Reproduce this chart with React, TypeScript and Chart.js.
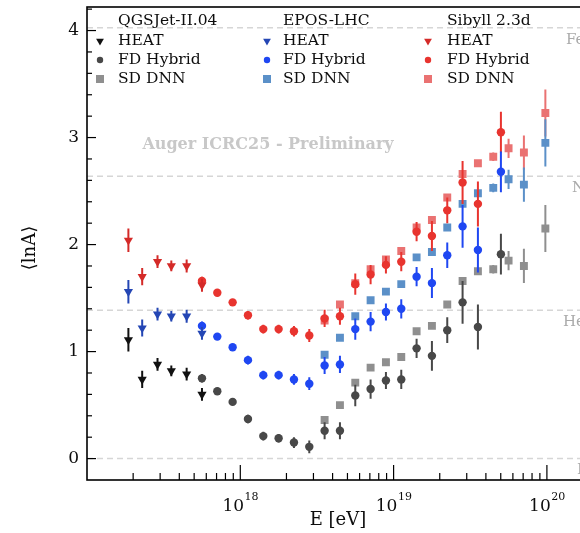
import React, { useEffect, useRef } from 'react';
import { Chart, registerables } from 'chart.js';

Chart.register(...registerables);

// ---------- data (log10 of energy in eV, <lnA>) ----------
const heatLgE = [17.27, 17.36, 17.46, 17.55, 17.65, 17.75];
const fdLgE = [17.75, 17.85, 17.95, 18.05, 18.15, 18.25, 18.35, 18.45, 18.55, 18.65, 18.75, 18.85, 18.95, 19.05, 19.15, 19.25, 19.35, 19.45, 19.55, 19.7];
const sdLgE = [18.55, 18.65, 18.75, 18.85, 18.95, 19.05, 19.15, 19.25, 19.35, 19.45, 19.55, 19.65, 19.75, 19.85, 19.99];

const qgsHeat = [1.11, 0.74, 0.88, 0.82, 0.79, 0.6];
const eposHeat = [1.56, 1.22, 1.35, 1.33, 1.33, 1.17];
const sibHeat = [2.04, 1.7, 1.84, 1.8, 1.8, 1.62];
const heatErr = [0.11, 0.08, 0.06, 0.05, 0.06, 0.06];

const qgsFd = [0.75, 0.63, 0.53, 0.37, 0.21, 0.19, 0.15, 0.11, 0.26, 0.26, 0.59, 0.65, 0.73, 0.74, 1.03, 0.96, 1.2, 1.46, 1.23, 1.91];
const eposFd = [1.24, 1.14, 1.04, 0.92, 0.78, 0.78, 0.74, 0.7, 0.87, 0.88, 1.21, 1.28, 1.37, 1.4, 1.7, 1.64, 1.9, 2.17, 1.95, 2.68];
const sibFd = [1.66, 1.55, 1.46, 1.34, 1.21, 1.21, 1.19, 1.15, 1.31, 1.33, 1.63, 1.72, 1.81, 1.84, 2.12, 2.08, 2.32, 2.58, 2.38, 3.05];
const fdErr = [0.04, 0.03, 0.03, 0.04, 0.04, 0.04, 0.05, 0.06, 0.08, 0.08, 0.1, 0.09, 0.08, 0.09, 0.09, 0.14, 0.12, 0.2, 0.21, 0.19];

const qgsSd = [0.36, 0.5, 0.71, 0.85, 0.9, 0.95, 1.19, 1.24, 1.44, 1.66, 1.75, 1.77, 1.85, 1.8, 2.15];
const eposSd = [0.97, 1.13, 1.33, 1.48, 1.56, 1.63, 1.88, 1.93, 2.16, 2.38, 2.48, 2.53, 2.61, 2.56, 2.95];
const sibSd = [1.29, 1.44, 1.64, 1.77, 1.86, 1.94, 2.16, 2.23, 2.44, 2.66, 2.76, 2.82, 2.9, 2.86, 3.23];
const sdErr = [0.02, 0.02, 0.02, 0.02, 0.02, 0.02, 0.02, 0.03, 0.03, 0.03, 0.03, 0.04, 0.09, 0.16, 0.22];

const models = ['QGSJet-II.04', 'EPOS-LHC', 'Sibyll 2.3d'];
const detectors = ['HEAT', 'FD Hybrid', 'SD DNN'];
const refNames = ['H', 'He', 'N', 'Fe'];
const refMass = [1, 4, 14, 56];
const yTickValues = [0, 1, 2, 3, 4];
const xDecades = [18, 19, 20];
const watermark = 'Auger ICRC25 - Preliminary';
const xTitle = 'E [eV]';
const yTitle = '\u27E8lnA\u27E9';

// ---------- styles ----------
const FONT = "'DejaVu Serif', 'Liberation Serif', serif";
const heatColors = ['#111111', '#2446b4', '#d42a28'];
const fdColors = ['#484848', '#1f47f2', '#e8342f'];
const sdColors = ['#8f8f8f', '#5b90c8', '#ea7272'];
const refLabelX = [577, 563, 572, 566];

type Group = { lgE: number[]; vals: number[][]; err: number[]; style: string; rotation: number; radius: number; colors: string[]; order: number };
const groups: Group[] = [
  { lgE: sdLgE, vals: [qgsSd, eposSd, sibSd], err: sdErr, style: 'rect', rotation: 0, radius: 5.6, colors: sdColors, order: 3 },
  { lgE: fdLgE, vals: [qgsFd, eposFd, sibFd], err: fdErr, style: 'circle', rotation: 0, radius: 4.2, colors: fdColors, order: 2 },
  { lgE: heatLgE, vals: [qgsHeat, eposHeat, sibHeat], err: heatErr, style: 'triangle', rotation: 180, radius: 5.3, colors: heatColors, order: 1 },
];

function buildDatasets() {
  const out: any[] = [];
  groups.forEach((g) => {
    g.vals.forEach((vals, m) => {
      out.push({
        label: `${models[m]} ${g.style}`,
        data: g.lgE.map((l, i) => ({ x: Math.pow(10, l), y: vals[i] })),
        errs: g.err,
        pointStyle: g.style,
        rotation: g.rotation,
        pointRadius: g.radius,
        pointHoverRadius: g.radius,
        backgroundColor: g.colors[m],
        borderColor: g.colors[m],
        borderWidth: 0,
        showLine: false,
        order: g.order,
      });
    });
  });
  return out;
}

function drawMarker(ctx: CanvasRenderingContext2D, style: string, x: number, y: number, r: number, color: string) {
  ctx.fillStyle = color;
  ctx.beginPath();
  if (style === 'triangle') {
    ctx.moveTo(x - r * 0.866, y - r * 0.5);
    ctx.lineTo(x + r * 0.866, y - r * 0.5);
    ctx.lineTo(x, y + r);
    ctx.closePath();
  } else if (style === 'circle') {
    ctx.arc(x, y, r, 0, Math.PI * 2);
  } else {
    ctx.rect(x - r, y - r, 2 * r, 2 * r);
  }
  ctx.fill();
}

const decor = {
  id: 'decor',
  beforeDatasetsDraw(chart: any) {
    const { ctx, chartArea: a, scales } = chart;
    const y = scales.y;
    ctx.save();
    ctx.strokeStyle = '#d6d6d6';
    ctx.lineWidth = 1.5;
    ctx.setLineDash([6, 4]);
    refMass.forEach((m) => {
      const py = y.getPixelForValue(Math.log(m));
      ctx.beginPath();
      ctx.moveTo(a.left, py);
      ctx.lineTo(a.right, py);
      ctx.stroke();
    });
    ctx.setLineDash([]);
    ctx.fillStyle = '#aaaaaa';
    ctx.font = `15px ${FONT}`;
    ctx.textAlign = 'left';
    ctx.textBaseline = 'middle';
    refNames.forEach((n, i) => {
      ctx.fillText(n, refLabelX[i], y.getPixelForValue(Math.log(refMass[i])) + 12);
    });
    ctx.font = `bold 16px ${FONT}`;
    ctx.fillStyle = '#c8c8c8';
    ctx.textAlign = 'center';
    ctx.fillText(watermark, 268, 145);
    ctx.restore();
  },
  beforeDatasetDraw(chart: any, args: any) {
    const { ctx, chartArea: a, scales } = chart;
    const y = scales.y;
    const ds = chart.data.datasets[args.index];
    ctx.save();
    ctx.beginPath();
    ctx.rect(a.left, a.top, a.right - a.left, a.bottom - a.top);
    ctx.clip();
    ctx.strokeStyle = ds.borderColor;
    ctx.lineWidth = 2;
    args.meta.data.forEach((pt: any, i: number) => {
      const v = ds.data[i].y;
      const e = ds.errs[i];
      ctx.beginPath();
      ctx.moveTo(pt.x, y.getPixelForValue(v + e));
      ctx.lineTo(pt.x, y.getPixelForValue(v - e));
      ctx.stroke();
    });
    ctx.restore();
  },
  afterDraw(chart: any) {
    const { ctx, chartArea: a, scales } = chart;
    const x = scales.x;
    const y = scales.y;
    ctx.save();
    ctx.strokeStyle = '#000';
    ctx.lineWidth = 1.6;
    ctx.strokeRect(a.left, a.top, a.right - a.left, a.bottom - a.top);
    ctx.lineWidth = 1.2;
    // x ticks (inward)
    for (let d = 16; d <= 21; d++) {
      for (let m = 1; m <= 9; m++) {
        const v = m * Math.pow(10, d);
        if (v <= x.min || v >= x.max) continue;
        const px = x.getPixelForValue(v);
        const len = m === 1 ? 15 : 7;
        ctx.beginPath();
        ctx.moveTo(px, a.bottom);
        ctx.lineTo(px, a.bottom - len);
        ctx.stroke();
      }
    }
    // y ticks (inward)
    for (let k = -5; k <= 25; k++) {
      const v = k * 0.2;
      if (v <= y.min + 1e-6 || v >= y.max) continue;
      const py = y.getPixelForValue(v);
      const len = k % 5 === 0 ? 9 : 5;
      ctx.beginPath();
      ctx.moveTo(a.left, py);
      ctx.lineTo(a.left + len, py);
      ctx.stroke();
    }
    // y tick labels
    ctx.fillStyle = '#0d0d0d';
    ctx.font = `17px ${FONT}`;
    ctx.textAlign = 'right';
    ctx.textBaseline = 'middle';
    yTickValues.forEach((v) => ctx.fillText(String(v), a.left - 8, y.getPixelForValue(v)));
    // x tick labels 10^n
    ctx.textAlign = 'left';
    ctx.textBaseline = 'alphabetic';
    xDecades.forEach((d) => {
      const px = x.getPixelForValue(Math.pow(10, d));
      ctx.font = `17px ${FONT}`;
      const w1 = ctx.measureText('10').width;
      ctx.font = `11px ${FONT}`;
      const w2 = ctx.measureText(String(d)).width;
      const start = px - (w1 + w2) / 2;
      ctx.font = `17px ${FONT}`;
      ctx.fillText('10', start, 511);
      ctx.font = `11px ${FONT}`;
      ctx.fillText(String(d), start + w1 + 0.5, 500);
    });
    // axis titles
    ctx.font = `18px ${FONT}`;
    ctx.textAlign = 'center';
    ctx.textBaseline = 'middle';
    ctx.fillText(xTitle, 338, 520);
    ctx.save();
    ctx.translate(30, 248);
    ctx.rotate(-Math.PI / 2);
    ctx.fillText(yTitle, 0, 0);
    ctx.restore();
    // legend
    const markerX = [100, 267, 428];
    const textX = [118, 283, 447];
    const rowY = [41, 60, 79];
    const legendStyles = ['triangle', 'circle', 'rect'];
    const legendR = [4.5, 3.2, 4];
    const colorSets = [heatColors, fdColors, sdColors];
    ctx.font = `15.5px ${FONT}`;
    ctx.textAlign = 'left';
    models.forEach((mName, m) => {
      ctx.fillStyle = '#0d0d0d';
      ctx.fillText(mName, textX[m], 21);
      detectors.forEach((det, r) => {
        drawMarker(ctx, legendStyles[r], markerX[m], rowY[r], legendR[r], colorSets[r][m]);
        ctx.fillStyle = '#0d0d0d';
        ctx.fillText(det, textX[m], rowY[r]);
      });
    });
    ctx.restore();
  },
};

export default function App() {
  const ref = useRef<HTMLCanvasElement>(null);
  useEffect(() => {
    const chart = new Chart(ref.current as HTMLCanvasElement, {
      type: 'scatter',
      data: { datasets: buildDatasets() },
      options: {
        responsive: false,
        maintainAspectRatio: false,
        devicePixelRatio: 1,
        animation: false,
        layout: { padding: { left: 87, right: 16.45, top: 7, bottom: 53 } },
        scales: {
          x: { type: 'logarithmic', min: 1e17, max: Math.pow(10, 20.5), display: false },
          y: { type: 'linear', min: -0.2, max: 4.22, display: false },
        },
        plugins: { legend: { display: false }, tooltip: { enabled: false } },
      },
      plugins: [decor as any],
    } as any);
    return () => chart.destroy();
  }, []);
  return (
    <div style={{ position: 'fixed', left: 0, top: 0, width: 580, height: 533, overflow: 'hidden', background: '#fff' }}>
      <canvas ref={ref} width={640} height={533} style={{ display: 'block', width: 640, height: 533 }} />
    </div>
  );
}
